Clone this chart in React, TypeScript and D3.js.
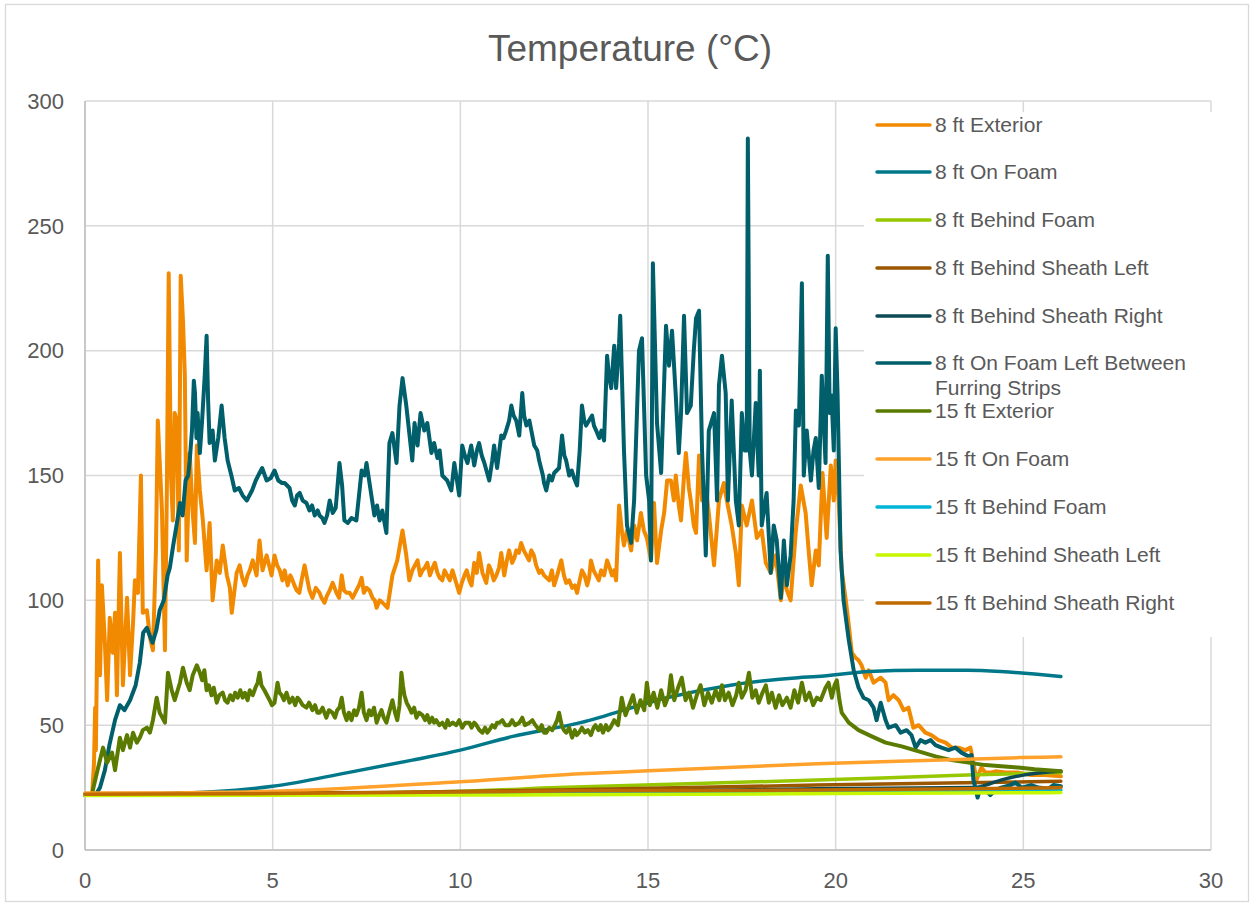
import React from "react";
import * as d3 from "d3";

type P = [number, number];

const X_TICKS = [0, 5, 10, 15, 20, 25, 30];
const Y_TICKS = [0, 50, 100, 150, 200, 250, 300];

const SERIES_NAMES = [
  "8 ft Exterior",
  "8 ft On Foam",
  "8 ft Behind Foam",
  "8 ft Behind Sheath Left",
  "8 ft Behind Sheath Right",
  "8 ft On Foam Left Between Furring Strips",
  "15 ft Exterior",
  "15 ft On Foam",
  "15 ft Behind Foam",
  "15 ft Behind Sheath Left",
  "15 ft Behind Sheath Right",
];

const SERIES_COLORS = [
  "#F18A00", "#00788A", "#97C700", "#9A5700", "#0E4A55", "#005F6B",
  "#5B7B00", "#FFA12B", "#00B5D6", "#C6F700", "#C06B00",
];

// true = smooth sensor trace, false = noisy trace
const SERIES_SMOOTH = [false, true, true, true, true, false, false, true, true, true, true];

const EXT_8FT: P[] = [
  [0, 22], [0.19, 22], [0.24, 35], [0.27, 57], [0.29, 40], [0.35, 116], [0.4, 70], [0.45, 106], [0.53, 83],
  [0.59, 60], [0.66, 93], [0.74, 79], [0.8, 95], [0.85, 62], [0.93, 119], [1.01, 66], [1.12, 101], [1.2, 70],
  [1.28, 91], [1.33, 108], [1.41, 103], [1.49, 150], [1.54, 95], [1.65, 96], [1.73, 85], [1.81, 80], [1.89, 120],
  [1.94, 172], [2.05, 136], [2.13, 80], [2.18, 143], [2.23, 231], [2.29, 150], [2.34, 132], [2.39, 175],
  [2.45, 172], [2.5, 120], [2.55, 230], [2.61, 212], [2.66, 190], [2.71, 116], [2.79, 159], [2.87, 135],
  [2.93, 123], [2.98, 162], [3.06, 144], [3.14, 132], [3.24, 112], [3.32, 131], [3.4, 100], [3.51, 116],
  [3.59, 111], [3.67, 122], [3.78, 110], [3.86, 105], [3.91, 95], [4.04, 111], [4.12, 114], [4.19, 109],
  [4.26, 106], [4.33, 110], [4.39, 112], [4.47, 116], [4.57, 110], [4.65, 124], [4.73, 112], [4.84, 118],
  [4.97, 110], [5.05, 118], [5.12, 114], [5.19, 112], [5.26, 108], [5.32, 112], [5.4, 106], [5.47, 110],
  [5.53, 108], [5.58, 106], [5.64, 104], [5.71, 103], [5.77, 108], [5.85, 114], [5.98, 104], [6.06, 101],
  [6.15, 105], [6.25, 103], [6.3, 101], [6.38, 99], [6.45, 102], [6.52, 104], [6.6, 107], [6.7, 103],
  [6.77, 101], [6.84, 110], [6.9, 104], [6.97, 103], [7.05, 103], [7.13, 101], [7.23, 104], [7.3, 106],
  [7.37, 109], [7.43, 103], [7.5, 105], [7.58, 104], [7.66, 101], [7.72, 100], [7.77, 97], [7.85, 100],
  [7.93, 99], [8.0, 98], [8.06, 97], [8.19, 110], [8.32, 116], [8.46, 128], [8.56, 118], [8.64, 108],
  [8.72, 112], [8.86, 116], [8.93, 110], [8.99, 112], [9.05, 113], [9.12, 115], [9.19, 110], [9.26, 113],
  [9.32, 115], [9.39, 111], [9.45, 109], [9.52, 108], [9.58, 112], [9.65, 110], [9.72, 108], [9.79, 112],
  [9.89, 107], [9.97, 103], [10.04, 107], [10.11, 110], [10.17, 112], [10.24, 108], [10.3, 106], [10.37, 115],
  [10.44, 111], [10.5, 119], [10.59, 111], [10.69, 107], [10.76, 114], [10.82, 112], [10.89, 108], [10.96, 110],
  [11.03, 113], [11.09, 119], [11.17, 110], [11.24, 116], [11.3, 120], [11.38, 115], [11.44, 117], [11.49, 120],
  [11.56, 119], [11.62, 123], [11.69, 120], [11.76, 118], [11.83, 116], [11.89, 120], [11.96, 118], [12.02, 114],
  [12.1, 111], [12.16, 112], [12.23, 110], [12.3, 109], [12.37, 108], [12.44, 112], [12.5, 106], [12.58, 110],
  [12.69, 116], [12.76, 110], [12.82, 107], [12.9, 108], [12.98, 105], [13.05, 106], [13.11, 103], [13.18, 108],
  [13.24, 112], [13.31, 110], [13.38, 106], [13.43, 109], [13.48, 116], [13.55, 112], [13.62, 110], [13.69, 108],
  [13.75, 112], [13.83, 110], [13.91, 116], [13.98, 113], [14.04, 110], [14.1, 112], [14.15, 108],
  [14.23, 138], [14.31, 127], [14.36, 122], [14.44, 128], [14.55, 120], [14.63, 130], [14.71, 124], [14.81, 135],
  [14.89, 128], [14.97, 125], [15.08, 116], [15.16, 139], [15.24, 115], [15.35, 128], [15.43, 135], [15.51, 148],
  [15.61, 148], [15.69, 140], [15.74, 150], [15.82, 138], [15.88, 132], [15.96, 150], [16.01, 159], [16.09, 145],
  [16.14, 140], [16.22, 130], [16.28, 127], [16.36, 158], [16.44, 140], [16.54, 145], [16.62, 135], [16.76, 114],
  [16.84, 130], [16.89, 140], [17.02, 147], [17.1, 140], [17.23, 130], [17.34, 119], [17.42, 106], [17.5, 138],
  [17.63, 130], [17.77, 140], [17.9, 125], [18.03, 128], [18.14, 115], [18.27, 111], [18.4, 118], [18.54, 100],
  [18.62, 110], [18.7, 104], [18.8, 100], [18.94, 128], [19.07, 146], [19.2, 135], [19.28, 120], [19.36, 106],
  [19.47, 120], [19.55, 114], [19.65, 151], [19.76, 125], [19.87, 154], [19.95, 140], [20.0, 156], [20.08, 140],
  [20.16, 112], [20.27, 100], [20.35, 90], [20.43, 79], [20.53, 77], [20.61, 76], [20.69, 74], [20.8, 69],
  [20.88, 72], [21.01, 67], [21.2, 69], [21.33, 67], [21.41, 60], [21.54, 62], [21.68, 60], [21.81, 56],
  [21.94, 57], [22.07, 49], [22.21, 50], [22.39, 47], [22.55, 46], [22.74, 44], [22.93, 43], [23.09, 41],
  [23.27, 41], [23.46, 40], [23.59, 41], [23.67, 35], [23.75, 28], [23.88, 33], [23.99, 31], [24.12, 31],
  [24.26, 31.5], [24.52, 31], [24.87, 31], [25.21, 30], [25.59, 30], [26, 29.5],
];

const ONFOAM_8FT: P[] = [
  [0, 22], [2, 22.5], [3.4, 23.3], [5, 25.5], [7, 31], [8.72, 36], [10, 40], [11.4, 45.5], [13.2, 51],
  [15.5, 61], [17.2, 66], [19, 69], [19.5, 69.5], [20.9, 71.5], [22.2, 72], [23.5, 72], [24.4, 71.5],
  [25.3, 70.5], [26, 69.5],
];

const BEHINDFOAM_8FT: P[] = [
  [0, 22.3], [5, 22.5], [10, 23.5], [12.6, 25], [19.5, 28], [23.5, 30], [26, 31],
];

const SHEATHL_8FT: P[] = [
  [0, 22.5], [8, 23], [12.6, 24], [19.5, 26], [23, 26.8], [26, 27.5],
];

const SHEATHR_8FT: P[] = [
  [0, 22], [10, 23], [15, 23.5], [19.5, 24.5], [23.7, 25], [24, 26], [24.4, 28], [25, 30], [26, 31.5],
];

const FURRING_8FT: P[] = [
  [0, 22], [0.28, 22], [0.4, 25], [0.53, 32], [0.65, 42], [0.8, 52], [0.93, 58], [1.05, 56], [1.2, 60],
  [1.35, 66], [1.46, 75], [1.55, 87], [1.65, 89], [1.72, 86], [1.8, 83], [1.9, 88], [1.99, 96], [2.1, 100],
  [2.2, 110], [2.26, 113], [2.35, 122], [2.45, 131], [2.53, 139], [2.6, 134], [2.68, 148], [2.75, 150],
  [2.79, 156], [2.85, 168], [2.9, 188], [2.93, 183], [2.97, 165], [3.0, 175], [3.06, 159], [3.12, 172],
  [3.19, 190], [3.24, 206], [3.28, 180], [3.32, 163], [3.4, 168], [3.46, 156], [3.55, 165], [3.64, 178],
  [3.72, 165], [3.8, 156], [3.9, 150], [3.99, 144], [4.1, 145], [4.2, 142], [4.31, 140], [4.45, 144],
  [4.55, 148], [4.65, 151], [4.72, 153], [4.84, 148], [4.95, 149], [5.05, 152], [5.15, 148], [5.25, 147],
  [5.32, 147], [5.45, 145], [5.52, 140], [5.59, 138], [5.65, 142], [5.72, 143], [5.8, 140], [5.9, 139],
  [5.98, 136], [6.05, 138], [6.12, 134], [6.2, 136], [6.25, 134], [6.32, 133], [6.38, 131], [6.45, 134],
  [6.52, 140], [6.6, 135], [6.68, 137], [6.78, 155], [6.85, 146], [6.91, 132], [7.0, 131], [7.1, 133],
  [7.23, 132], [7.3, 142], [7.37, 152], [7.45, 150], [7.5, 155], [7.6, 145], [7.71, 134], [7.78, 138],
  [7.85, 132], [7.92, 136], [8.03, 127], [8.08, 150], [8.11, 163], [8.19, 167], [8.3, 155], [8.38, 178],
  [8.46, 189], [8.56, 178], [8.64, 167], [8.72, 156], [8.78, 171], [8.86, 162], [8.94, 175], [9.04, 168],
  [9.12, 171], [9.23, 159], [9.3, 163], [9.39, 157], [9.45, 160], [9.52, 150], [9.65, 148], [9.76, 144],
  [9.84, 155], [9.97, 142], [10.05, 162], [10.12, 158], [10.19, 155], [10.29, 162], [10.37, 154], [10.44, 160],
  [10.5, 163], [10.57, 158], [10.64, 155], [10.77, 148], [10.85, 156], [10.9, 162], [10.98, 153], [11.09, 166],
  [11.15, 165], [11.22, 168], [11.3, 172], [11.36, 178], [11.42, 174], [11.49, 172], [11.57, 166], [11.65, 183],
  [11.7, 174], [11.76, 170], [11.84, 172], [11.97, 162], [12.05, 160], [12.1, 156], [12.2, 150], [12.23, 147],
  [12.29, 144], [12.37, 150], [12.44, 148], [12.5, 151], [12.63, 153], [12.71, 166], [12.77, 158], [12.82, 156],
  [12.9, 150], [12.97, 152], [13.03, 149], [13.11, 146], [13.18, 160], [13.24, 178], [13.3, 172], [13.35, 170],
  [13.43, 172], [13.51, 174], [13.56, 170], [13.62, 168], [13.7, 165], [13.76, 168], [13.83, 164], [13.91, 198],
  [13.96, 190], [14.02, 185], [14.1, 202], [14.15, 185], [14.23, 203], [14.26, 214], [14.36, 160], [14.44, 130],
  [14.55, 123], [14.63, 140], [14.76, 200], [14.84, 205], [14.95, 150], [15.03, 140], [15.08, 116], [15.13, 235],
  [15.24, 171], [15.35, 151], [15.48, 210], [15.56, 194], [15.64, 208], [15.74, 182], [15.82, 159], [15.88, 175],
  [15.96, 214], [16.04, 175], [16.14, 178], [16.22, 200], [16.28, 213], [16.36, 216], [16.44, 160], [16.54, 118],
  [16.62, 168], [16.76, 175], [16.84, 140], [16.89, 186], [16.97, 198], [17.07, 183], [17.13, 140], [17.23, 180],
  [17.34, 140], [17.42, 130], [17.5, 175], [17.58, 160], [17.63, 160], [17.66, 285], [17.71, 160], [17.77, 150],
  [17.87, 179], [17.95, 150], [17.98, 192], [18.03, 130], [18.16, 143], [18.27, 111], [18.35, 130], [18.43, 124],
  [18.54, 101], [18.62, 124], [18.7, 106], [18.8, 118], [18.88, 140], [18.94, 176], [19.02, 170], [19.1, 227],
  [19.15, 150], [19.23, 168], [19.34, 148], [19.41, 160], [19.47, 165], [19.55, 145], [19.63, 190], [19.73, 155],
  [19.79, 238], [19.84, 175], [19.89, 182], [19.95, 160], [20.0, 209], [20.05, 183], [20.13, 120], [20.21, 100],
  [20.35, 84], [20.48, 72], [20.61, 65], [20.74, 61], [20.88, 60], [21.01, 57], [21.09, 52], [21.2, 59],
  [21.33, 52], [21.41, 49], [21.6, 50], [21.73, 47], [21.89, 48], [22.02, 46], [22.13, 41], [22.26, 44],
  [22.39, 43], [22.53, 44], [22.66, 42], [22.82, 41], [23.01, 40], [23.19, 41], [23.35, 39], [23.54, 37.5],
  [23.62, 38], [23.67, 28], [23.72, 25], [23.78, 21], [23.86, 25], [23.99, 24], [24.12, 22], [24.26, 24],
  [24.41, 25], [24.65, 26], [24.79, 27], [24.95, 25], [25.21, 26], [25.4, 25], [25.66, 24.5], [25.8, 26],
  [26, 25.5],
];

const EXT_15FT: P[] = [
  [0, 22], [0.19, 22], [0.21, 24], [0.35, 33], [0.48, 41], [0.59, 35], [0.72, 39], [0.8, 32], [0.93, 45],
  [1.01, 40], [1.12, 46], [1.2, 41], [1.28, 47], [1.38, 43], [1.46, 45], [1.54, 48], [1.65, 49], [1.73, 47],
  [1.81, 52], [1.91, 61], [1.99, 55], [2.13, 51], [2.21, 71], [2.31, 64], [2.39, 60], [2.53, 67], [2.61, 73],
  [2.71, 67], [2.79, 64], [2.87, 70], [2.98, 74], [3.06, 71], [3.12, 68], [3.18, 72], [3.24, 64], [3.3, 66],
  [3.37, 62], [3.43, 65], [3.51, 59], [3.58, 62], [3.67, 63], [3.73, 60], [3.8, 59], [3.87, 62], [3.94, 60],
  [4.0, 63], [4.07, 61], [4.14, 64], [4.2, 61], [4.26, 63], [4.33, 60], [4.39, 64], [4.47, 62], [4.54, 65],
  [4.6, 67], [4.65, 71], [4.7, 66], [4.78, 64], [4.85, 62], [4.92, 60], [4.98, 58], [5.05, 59], [5.13, 67],
  [5.18, 63], [5.24, 62], [5.3, 60], [5.37, 63], [5.45, 59], [5.53, 61], [5.6, 58], [5.66, 61], [5.72, 60],
  [5.8, 58], [5.9, 57], [5.97, 59], [6.06, 56], [6.13, 58], [6.19, 55], [6.25, 55], [6.33, 57], [6.43, 53],
  [6.5, 56], [6.59, 55], [6.66, 53], [6.72, 56], [6.78, 57], [6.84, 61], [6.9, 55], [6.97, 52], [7.03, 55],
  [7.1, 52], [7.17, 56], [7.23, 54], [7.3, 57], [7.37, 63], [7.43, 55], [7.5, 52], [7.57, 56], [7.63, 54],
  [7.7, 57], [7.77, 51], [7.84, 54], [7.9, 56], [7.96, 53], [8.03, 51], [8.1, 55], [8.19, 60], [8.26, 55],
  [8.32, 52], [8.38, 58], [8.43, 71], [8.47, 66], [8.51, 62], [8.57, 59], [8.64, 57], [8.7, 55], [8.77, 57],
  [8.83, 53], [8.9, 55], [8.99, 54], [9.06, 52], [9.12, 54], [9.18, 51], [9.25, 53], [9.3, 51], [9.36, 52],
  [9.44, 50], [9.52, 51], [9.6, 49], [9.66, 52], [9.71, 50], [9.8, 51], [9.89, 50], [9.97, 52], [10.05, 49],
  [10.13, 51], [10.24, 51], [10.3, 49], [10.37, 51], [10.43, 50], [10.51, 48], [10.59, 47], [10.66, 49],
  [10.72, 47], [10.77, 48], [10.85, 50], [10.92, 49], [10.98, 51], [11.04, 51], [11.12, 52], [11.2, 50],
  [11.3, 50], [11.38, 52], [11.46, 50], [11.57, 51], [11.65, 53], [11.72, 50], [11.84, 51], [11.92, 52],
  [12.0, 50], [12.1, 48], [12.17, 50], [12.23, 47], [12.29, 47], [12.37, 49], [12.45, 48], [12.52, 50],
  [12.58, 52], [12.63, 55], [12.7, 50], [12.76, 48], [12.82, 47], [12.9, 49], [12.98, 45], [13.05, 48],
  [13.1, 46], [13.16, 47], [13.24, 49], [13.32, 47], [13.4, 48], [13.48, 46], [13.55, 49], [13.6, 50],
  [13.68, 48], [13.74, 50], [13.8, 47], [13.88, 50], [13.94, 48], [14.0, 49], [14.1, 52], [14.2, 50],
  [14.3, 61], [14.4, 54], [14.5, 58], [14.6, 62], [14.7, 55], [14.8, 60], [14.9, 56], [14.97, 67], [15.05, 58],
  [15.15, 63], [15.25, 57], [15.35, 64], [15.45, 58], [15.55, 62], [15.61, 70], [15.7, 60], [15.8, 65],
  [15.9, 69], [16.0, 60], [16.1, 63], [16.2, 57], [16.3, 62], [16.4, 66], [16.5, 58], [16.6, 63], [16.7, 59],
  [16.8, 64], [16.9, 60], [16.97, 66], [17.05, 60], [17.15, 63], [17.25, 58], [17.35, 62], [17.42, 67],
  [17.5, 61], [17.6, 64], [17.69, 71], [17.78, 61], [17.87, 64], [17.95, 59], [18.05, 63], [18.14, 66],
  [18.22, 59], [18.3, 63], [18.4, 57], [18.49, 62], [18.58, 58], [18.7, 61], [18.8, 57], [18.9, 64], [19.0, 59],
  [19.1, 67], [19.2, 60], [19.3, 63], [19.4, 58], [19.5, 61], [19.6, 60], [19.73, 65], [19.81, 67], [19.9, 61],
  [19.97, 66], [20.03, 68], [20.1, 60], [20.16, 55], [20.35, 51], [20.61, 48], [20.96, 45.5], [21.33, 43],
  [21.76, 41.5], [22.21, 39.5], [22.66, 37.5], [23.09, 36], [23.54, 35], [23.99, 34], [24.41, 33.5],
  [24.87, 33], [25.3, 32.3], [26, 31.5],
];

const ONFOAM_15FT: P[] = [
  [0, 22.8], [2, 22.8], [3, 23], [5, 23.5], [10, 27.3], [13.2, 30.5], [15, 31.7], [19.5, 34.5], [22.1, 35.7],
  [24.9, 37], [26, 37.3],
];

const BEHINDFOAM_15FT: P[] = [
  [0, 22], [10, 22.5], [20, 23.3], [26, 24],
];

const SHEATHL_15FT: P[] = [
  [0, 21.8], [10, 22], [20, 22.6], [26, 23],
];

const SHEATHR_15FT: P[] = [
  [0, 22.3], [5, 22.6], [13.2, 23.7], [19.5, 24], [23.5, 24.5], [26, 25],
];

const SERIES_DATA: P[][] = [
  EXT_8FT, ONFOAM_8FT, BEHINDFOAM_8FT, SHEATHL_8FT, SHEATHR_8FT, FURRING_8FT,
  EXT_15FT, ONFOAM_15FT, BEHINDFOAM_15FT, SHEATHL_15FT, SHEATHR_15FT,
];

const W = 1255;
const H = 907;
const FONT = "'Liberation Sans', Arial, sans-serif";
const TXT = "#595959";

export default function App() {
  const x = d3.scaleLinear().domain([0, 30]).range([85, 1211]);
  const y = d3.scaleLinear().domain([0, 300]).range([850, 101]);
  const lineRaw = d3
    .line<P>()
    .x((d) => x(d[0]))
    .y((d) => y(d[1]));
  const lineSmooth = d3
    .line<P>()
    .x((d) => x(d[0]))
    .y((d) => y(d[1]))
    .curve(d3.curveMonotoneX);

  const legendX = 877;
  const legendRows = [125, 172, 220, 268, 316, 363, 411, 459, 507, 555, 603];

  return (
    <div style={{ position: "absolute", left: 0, top: 0 }}>
      <svg width={W} height={H} style={{ display: "block", background: "#fff" }}>
        <rect x={0} y={0} width={W} height={H} fill="#fff" />
        <rect x={5.5} y={4.5} width={1243} height={897} fill="none" stroke="#D9D9D9" strokeWidth={1.3} />
        <text x={630} y={61} textAnchor="middle" fontFamily={FONT} fontSize={37} fill={TXT}>
          Temperature (°C)
        </text>
        {Y_TICKS.map((t) => (
          <line key={"gy" + t} x1={85} x2={1211} y1={y(t)} y2={y(t)} stroke="#D9D9D9" strokeWidth={1.5} />
        ))}
        {X_TICKS.map((t) => (
          <line key={"gx" + t} x1={x(t)} x2={x(t)} y1={101} y2={850} stroke="#D9D9D9" strokeWidth={1.5} />
        ))}
        <line x1={85} x2={85} y1={101} y2={850} stroke="#BFBFBF" strokeWidth={1.5} />
        <line x1={85} x2={1211} y1={850} y2={850} stroke="#BFBFBF" strokeWidth={1.5} />
        {Y_TICKS.map((t) => (
          <text key={"ly" + t} x={64} y={y(t)} dy="0.35em" textAnchor="end" fontFamily={FONT} fontSize={22} fill={TXT}>
            {t}
          </text>
        ))}
        {X_TICKS.map((t) => (
          <text key={"lx" + t} x={x(t)} y={888} textAnchor="middle" fontFamily={FONT} fontSize={22} fill={TXT}>
            {t}
          </text>
        ))}
        {SERIES_DATA.map((d, i) => (
          <path
            key={"s" + i}
            d={(SERIES_SMOOTH[i] ? lineSmooth(d) : lineRaw(d)) || ""}
            fill="none"
            stroke={SERIES_COLORS[i]}
            strokeWidth={SERIES_SMOOTH[i] ? 3.5 : 4}
            strokeLinejoin="round"
            strokeLinecap="round"
          />
        ))}
        <rect x={864} y={112} width={350} height={525} fill="#fff" />
        {SERIES_NAMES.map((name, i) => {
          const cy = legendRows[i];
          const twoLine = name.length > 30;
          return (
            <g key={"lg" + i}>
              <line x1={legendX} x2={legendX + 53} y1={cy} y2={cy} stroke={SERIES_COLORS[i]} strokeWidth={3.5} strokeLinecap="round" />
              {twoLine ? (
                <text x={935} y={cy} dy="0.35em" fontFamily={FONT} fontSize={21} fill={TXT}>
                  <tspan x={935}>8 ft On Foam Left Between</tspan>
                  <tspan x={935} dy={25}>Furring Strips</tspan>
                </text>
              ) : (
                <text x={935} y={cy} dy="0.35em" fontFamily={FONT} fontSize={21} fill={TXT}>
                  {name}
                </text>
              )}
            </g>
          );
        })}
      </svg>
    </div>
  );
}
